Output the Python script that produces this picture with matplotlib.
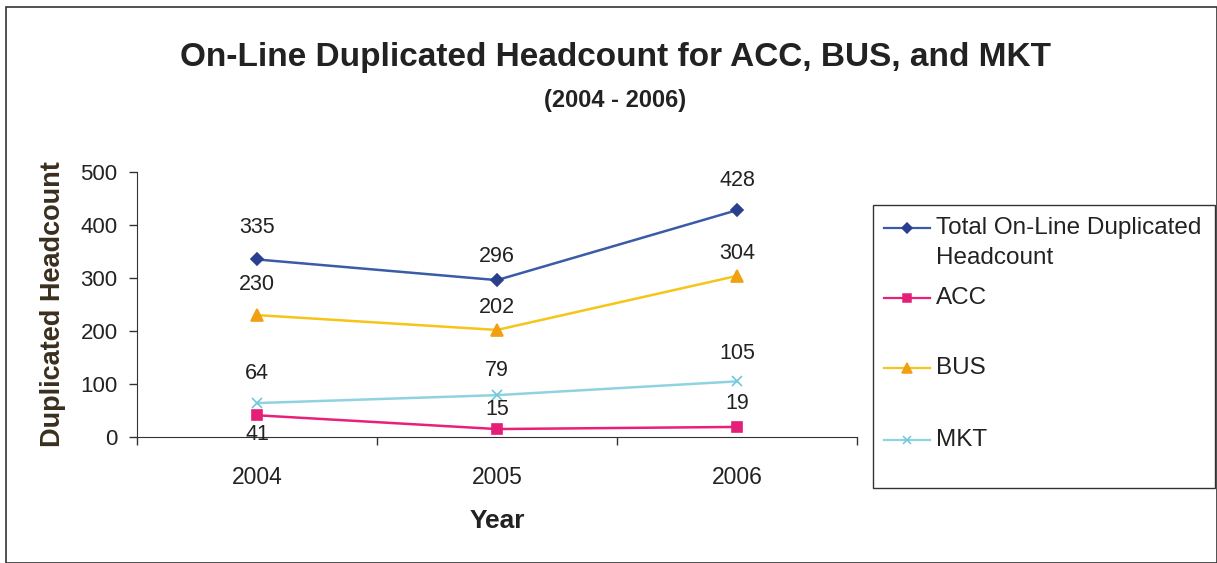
import matplotlib.pyplot as plt
from matplotlib.patches import Rectangle
from matplotlib.lines import Line2D

years = ["2004", "2005", "2006"]
total = [335, 296, 428]
acc = [41, 15, 19]
bus = [230, 202, 304]
mkt = [64, 79, 105]

plt.rcParams['font.family'] = ['Liberation Sans', 'DejaVu Sans']

W, H = 1217, 563
fig = plt.figure(figsize=(W / 100, H / 100), dpi=100)
fig.patch.set_facecolor('white')


def fx(px):
    return px / W


def fy(py):
    return 1 - py / H


# outer chart border
fig.add_artist(Rectangle((fx(6), 0.0), (W - 6) / W, (H - 7) / H, transform=fig.transFigure,
                         fill=False, edgecolor='#333333', linewidth=1.2))

ax = fig.add_axes([fx(137), fy(437), 720 / W, 265 / H])
x = list(range(len(years)))

series = [
    ("Total On-Line Duplicated\nHeadcount", total, '#3A5BA8', 'D', '#2B3F8F', 6),
    ("ACC", acc, '#E8207A', 's', '#E51E78', 7),
    ("BUS", bus, '#F5C518', '^', '#F0A010', 8),
    ("MKT", mkt, '#8FD3E0', 'x', '#70C8DC', 7),
]
for name, vals, lc, mk, mc, ms in series:
    ax.plot(x, vals, color=lc, linewidth=1.8, marker=mk, markersize=ms,
            markerfacecolor=mc, markeredgecolor=mc, markeredgewidth=1.2)

# value labels (offsets in points)
label_offsets = {
    "total": [23, 17, 21],
    "acc": [-14, 14, 17],
    "bus": [22, 16, 16],
    "mkt": [21, 18, 20],
}
for key, vals in [("total", total), ("acc", acc), ("bus", bus), ("mkt", mkt)]:
    for i, v in enumerate(vals):
        ax.annotate(str(v), (i, v), xytext=(0, label_offsets[key][i]), textcoords='offset points',
                    ha='center', va='center', fontsize=15.5, color='#222222')

ax.set_xlim(-0.5, 2.5)
ax.set_ylim(0, 500)
ax.set_yticks([0, 100, 200, 300, 400, 500])
ax.set_xticks(x)
ax.set_xticklabels(years)
ax.set_xticks([-0.5, 0.5, 1.5, 2.5], minor=True)
ax.tick_params(axis='x', which='major', length=0, pad=21, labelsize=16.5, labelcolor='#222222')
ax.tick_params(axis='x', which='minor', length=6, direction='out', width=1, color='#333333')
ax.tick_params(axis='y', length=6, width=1, labelsize=16, pad=8, labelcolor='#222222',
               color='#333333')
for s in ['top', 'right']:
    ax.spines[s].set_visible(False)
for s in ['left', 'bottom']:
    ax.spines[s].set_color('#333333')

ax.set_xlabel("Year", fontsize=19, fontweight='bold', labelpad=14, color='#222222')
ax.set_ylabel("Duplicated Headcount", fontsize=19.5, fontweight='bold', color='#3a2e1e',
              labelpad=10)

fig.text(fx(615), fy(58), "On-Line Duplicated Headcount for ACC, BUS, and MKT",
         ha='center', va='center', fontsize=24, fontweight='bold', color='#222222')
fig.text(fx(615), fy(101), "(2004 - 2006)", ha='center', va='center',
         fontsize=17, fontweight='bold', color='#222222')

# legend box with entries
fig.add_artist(Rectangle((fx(873), fy(488)), (1215 - 873) / W, (488 - 205) / H,
                         transform=fig.transFigure, fill=False, edgecolor='#333333',
                         linewidth=1.0))
legend_rows = [228, 298, 368, 440]
for (name, vals, lc, mk, mc, ms), ry in zip(series, legend_rows):
    fig.add_artist(Line2D([fx(884), fx(930)], [fy(ry), fy(ry)], transform=fig.transFigure,
                          color=lc, linewidth=1.6))
    fig.add_artist(Line2D([fx(907)], [fy(ry)], transform=fig.transFigure, marker=mk,
                          markersize=ms - 1, markerfacecolor=mc, markeredgecolor=mc,
                          markeredgewidth=1.1, linestyle='none'))
    fig.text(fx(936), fy(ry), name.split("\n")[0], ha='left', va='center',
             fontsize=17.5, color='#222222')
    if "\n" in name:
        fig.text(fx(936), fy(ry + 30), name.split("\n")[1], ha='left', va='center',
                 fontsize=17.5, color='#222222')

fig.savefig("out.png", dpi=100, facecolor='white')
